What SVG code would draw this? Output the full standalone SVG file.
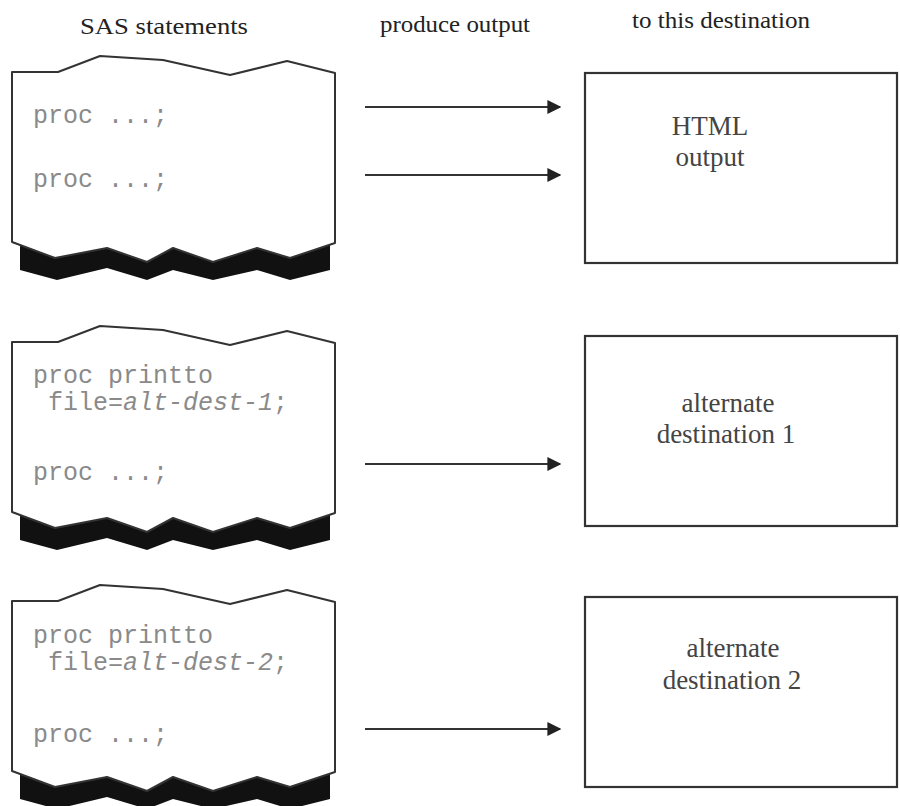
<svg xmlns="http://www.w3.org/2000/svg" width="900" height="806" viewBox="0 0 900 806">
<style>
.hdr{font-family:"Liberation Serif",serif;font-size:24px;fill:#222}
.code{font-family:"Liberation Mono",monospace;font-size:25px;fill:#8a8a8a}
.it{font-style:italic}
.lbl{font-family:"Liberation Serif",serif;font-size:27px;fill:#444;text-anchor:middle}
.sheet{fill:#fff;stroke:#333;stroke-width:2;stroke-linejoin:round}
.band{fill:#111}
.box{fill:#fff;stroke:#333;stroke-width:2.2}
.conn{stroke:#333;stroke-width:2.2;fill:none}
</style>
<defs>
<marker id="ah" viewBox="0 0 10 10" refX="9" refY="5" markerWidth="14" markerHeight="14" markerUnits="userSpaceOnUse" orient="auto">
<path d="M0,0 L10,5 L0,10 z" fill="#222"/>
</marker>
<g id="scroll">
<path class="band" d="M20,236 L330,236 L330,270 L290,280 L257,270 L213,280 L173,270 L147,280 L107,268 L57,280 L20,270 z"/>
<path class="sheet" d="M12,72 L58,72 L100,56 L163,60 L230,75 L287,61 L335,73 L335,243 L290,258 L257,248 L213,262 L173,248 L147,262 L107,248 L55,258 L12,242 z"/>
</g>
</defs>
<rect width="900" height="806" fill="#fff"/>
<g id="headers">
<text class="hdr" x="80" y="34" textLength="168" lengthAdjust="spacingAndGlyphs">SAS statements</text>
<text class="hdr" x="380" y="32" textLength="150" lengthAdjust="spacingAndGlyphs">produce output</text>
<text class="hdr" x="632" y="28" textLength="178" lengthAdjust="spacingAndGlyphs">to this destination</text>
</g>
<g id="stmt1">
<use href="#scroll"/>
<text class="code" x="33" y="123">proc ...;</text>
<text class="code" x="33" y="187">proc ...;</text>
</g>
<g id="stmt2">
<use href="#scroll" transform="translate(0,270)"/>
<text class="code" x="33" y="383">proc printto</text>
<text class="code" x="48" y="410">file=<tspan class="it">alt-dest-1</tspan>;</text>
<text class="code" x="33" y="480">proc ...;</text>
</g>
<g id="stmt3">
<use href="#scroll" transform="translate(0,529)"/>
<text class="code" x="33" y="643">proc printto</text>
<text class="code" x="48" y="670">file=<tspan class="it">alt-dest-2</tspan>;</text>
<text class="code" x="33" y="742">proc ...;</text>
</g>
<g id="dest1">
<rect class="box" x="585" y="73" width="312" height="190"/>
<text class="lbl" x="710" y="135">HTML</text>
<text class="lbl" x="710" y="166">output</text>
</g>
<g id="dest2">
<rect class="box" x="585" y="336" width="312" height="190"/>
<text class="lbl" x="728" y="412">alternate</text>
<text class="lbl" x="726" y="443">destination 1</text>
</g>
<g id="dest3">
<rect class="box" x="585" y="597" width="312" height="190"/>
<text class="lbl" x="733" y="657">alternate</text>
<text class="lbl" x="732" y="689">destination 2</text>
</g>
<g id="connectors">
<line class="conn" x1="365" y1="107" x2="560" y2="107" marker-end="url(#ah)"/>
<line class="conn" x1="365" y1="175" x2="560" y2="175" marker-end="url(#ah)"/>
<line class="conn" x1="365" y1="464" x2="560" y2="464" marker-end="url(#ah)"/>
<line class="conn" x1="365" y1="729" x2="560" y2="729" marker-end="url(#ah)"/>
</g>
</svg>
